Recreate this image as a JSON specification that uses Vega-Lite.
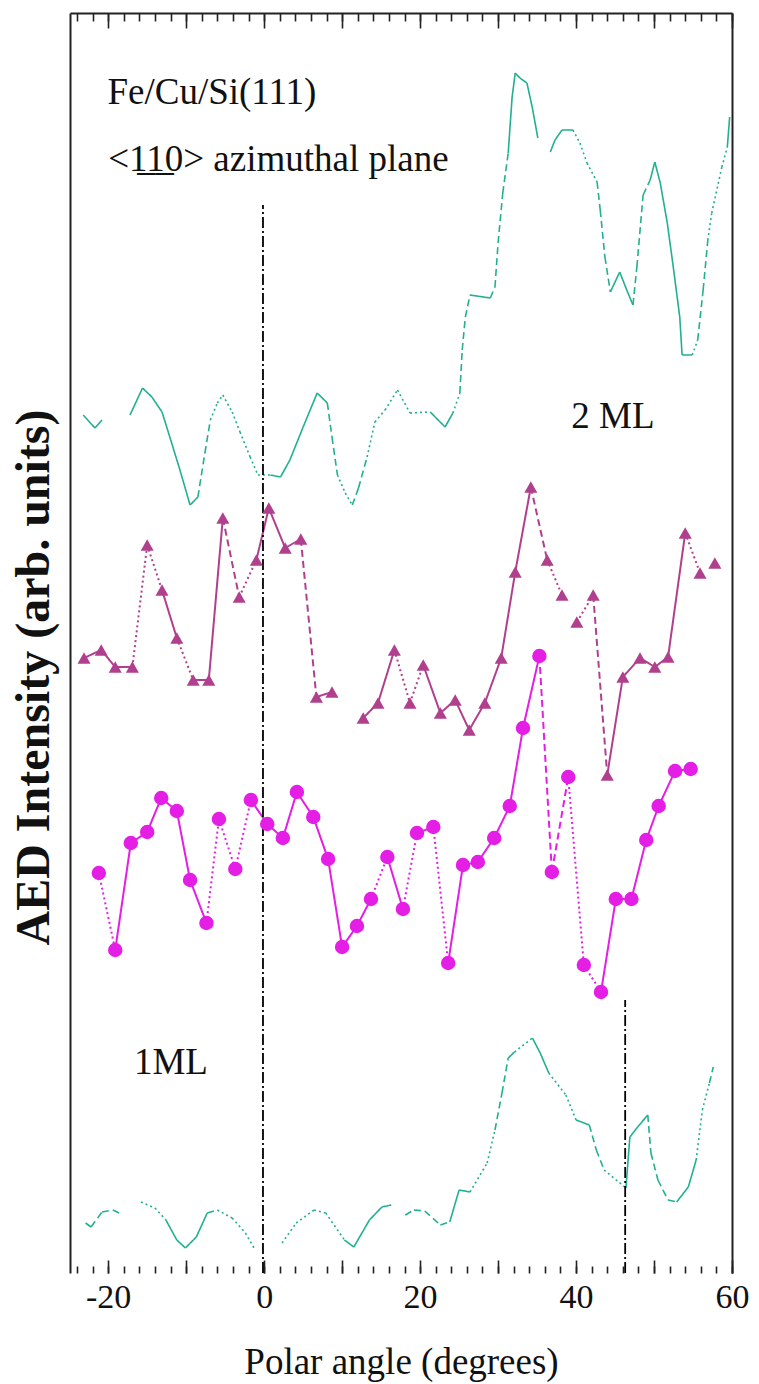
{
  "$schema": "https://vega.github.io/schema/vega-lite/v6.json",
  "width": 662,
  "height": 1260,
  "autosize": {"type": "none"},
  "padding": {"left": 70, "top": 13, "right": 27, "bottom": 111},
  "background": "white",
  "config": {"view": {"stroke": null}, "font": "Liberation Serif", "axis": {"grid": false}},
  "datasets": {
    "pts": [
      {"s":"2ML","x":-23.2,"y":85.8,"st":"s"},{"s":"2ML","x":-21.7,"y":84.5,"st":"s"},{"s":"2ML","x":-20.8,"y":85.3,"st":"n"},
      {"s":"2ML","x":-17.2,"y":85.8,"st":"s"},{"s":"2ML","x":-15.6,"y":88.5,"st":"s"},{"s":"2ML","x":-14.4,"y":87.6,"st":"s"},
      {"s":"2ML","x":-13.1,"y":86.1,"st":"s"},{"s":"2ML","x":-12.1,"y":83.6,"st":"s"},{"s":"2ML","x":-10.8,"y":80.3,"st":"s"},
      {"s":"2ML","x":-9.5,"y":76.8,"st":"s"},{"s":"2ML","x":-8.5,"y":77.6,"st":"d"},{"s":"2ML","x":-7.6,"y":82.0,"st":"d"},
      {"s":"2ML","x":-6.9,"y":85.3,"st":"o"},{"s":"2ML","x":-6.0,"y":87.0,"st":"o"},{"s":"2ML","x":-5.3,"y":87.8,"st":"o"},
      {"s":"2ML","x":-4.1,"y":86.1,"st":"o"},{"s":"2ML","x":-3.1,"y":84.1,"st":"o"},{"s":"2ML","x":-1.8,"y":81.6,"st":"o"},
      {"s":"2ML","x":-0.8,"y":79.8,"st":"o"},{"s":"2ML","x":0.8,"y":79.8,"st":"s"},{"s":"2ML","x":2.1,"y":79.6,"st":"s"},
      {"s":"2ML","x":3.3,"y":81.3,"st":"s"},{"s":"2ML","x":5.0,"y":84.6,"st":"s"},{"s":"2ML","x":6.8,"y":88.0,"st":"s"},
      {"s":"2ML","x":8.1,"y":87.0,"st":"d"},{"s":"2ML","x":8.7,"y":83.6,"st":"d"},{"s":"2ML","x":9.4,"y":79.8,"st":"o"},
      {"s":"2ML","x":10.4,"y":78.0,"st":"o"},{"s":"2ML","x":11.3,"y":76.8,"st":"d"},{"s":"2ML","x":12.1,"y":78.5,"st":"d"},
      {"s":"2ML","x":13.2,"y":81.6,"st":"o"},{"s":"2ML","x":14.2,"y":85.1,"st":"o"},{"s":"2ML","x":15.5,"y":86.3,"st":"o"},
      {"s":"2ML","x":17.1,"y":88.3,"st":"o"},{"s":"2ML","x":18.7,"y":86.0,"st":"o"},{"s":"2ML","x":21.3,"y":86.1,"st":"s"},
      {"s":"2ML","x":23.2,"y":84.6,"st":"s"},{"s":"2ML","x":24.2,"y":86.0,"st":"o"},{"s":"2ML","x":25.1,"y":88.0,"st":"d"},
      {"s":"2ML","x":25.4,"y":92.3,"st":"d"},{"s":"2ML","x":25.8,"y":95.6,"st":"d"},{"s":"2ML","x":26.4,"y":97.8,"st":"s"},
      {"s":"2ML","x":29.0,"y":97.5,"st":"d"},{"s":"2ML","x":29.6,"y":98.6,"st":"d"},{"s":"2ML","x":30.0,"y":103.0,"st":"d"},
      {"s":"2ML","x":30.6,"y":108.0,"st":"d"},{"s":"2ML","x":31.3,"y":112.0,"st":"s"},{"s":"2ML","x":31.8,"y":117.6,"st":"s"},
      {"s":"2ML","x":32.2,"y":120.0,"st":"s"},{"s":"2ML","x":32.8,"y":119.5,"st":"s"},{"s":"2ML","x":33.7,"y":119.0,"st":"s"},
      {"s":"2ML","x":34.4,"y":116.5,"st":"s"},{"s":"2ML","x":35.1,"y":113.5,"st":"n"},{"s":"2ML","x":36.7,"y":112.1,"st":"s"},
      {"s":"2ML","x":37.3,"y":113.3,"st":"s"},{"s":"2ML","x":38.2,"y":114.3,"st":"s"},{"s":"2ML","x":39.6,"y":114.3,"st":"o"},
      {"s":"2ML","x":40.5,"y":113.0,"st":"o"},{"s":"2ML","x":41.4,"y":111.0,"st":"o"},{"s":"2ML","x":42.7,"y":109.1,"st":"d"},
      {"s":"2ML","x":43.1,"y":106.3,"st":"d"},{"s":"2ML","x":43.7,"y":101.6,"st":"d"},{"s":"2ML","x":44.4,"y":98.1,"st":"s"},
      {"s":"2ML","x":45.6,"y":100.1,"st":"s"},{"s":"2ML","x":46.5,"y":98.3,"st":"s"},{"s":"2ML","x":47.3,"y":96.8,"st":"d"},
      {"s":"2ML","x":47.8,"y":100.6,"st":"d"},{"s":"2ML","x":48.6,"y":107.8,"st":"d"},{"s":"2ML","x":49.5,"y":109.3,"st":"s"},
      {"s":"2ML","x":50.1,"y":111.1,"st":"s"},{"s":"2ML","x":50.8,"y":109.0,"st":"s"},{"s":"2ML","x":51.7,"y":105.0,"st":"s"},
      {"s":"2ML","x":52.4,"y":101.0,"st":"s"},{"s":"2ML","x":53.3,"y":95.6,"st":"s"},{"s":"2ML","x":53.6,"y":91.8,"st":"s"},
      {"s":"2ML","x":54.9,"y":91.8,"st":"o"},{"s":"2ML","x":55.6,"y":93.3,"st":"d"},{"s":"2ML","x":56.3,"y":98.3,"st":"d"},
      {"s":"2ML","x":56.9,"y":103.3,"st":"o"},{"s":"2ML","x":57.4,"y":106.0,"st":"o"},{"s":"2ML","x":58.7,"y":110.6,"st":"o"},
      {"s":"2ML","x":59.4,"y":112.6,"st":"s"},{"s":"2ML","x":59.7,"y":115.6,"st":"s"},

      {"s":"tri","x":-23.1,"y":61.5,"st":"s"},{"s":"tri","x":-20.9,"y":62.3,"st":"s"},{"s":"tri","x":-19.1,"y":60.6,"st":"s"},
      {"s":"tri","x":-16.9,"y":60.6,"st":"o"},{"s":"tri","x":-15.0,"y":72.8,"st":"o"},{"s":"tri","x":-13.1,"y":68.3,"st":"s"},
      {"s":"tri","x":-11.2,"y":63.5,"st":"o"},{"s":"tri","x":-9.1,"y":59.3,"st":"s"},{"s":"tri","x":-7.1,"y":59.3,"st":"s"},
      {"s":"tri","x":-5.3,"y":75.5,"st":"d"},{"s":"tri","x":-3.2,"y":67.6,"st":"o"},{"s":"tri","x":-1.0,"y":71.3,"st":"s"},
      {"s":"tri","x":0.6,"y":76.5,"st":"s"},{"s":"tri","x":2.7,"y":72.5,"st":"s"},{"s":"tri","x":4.7,"y":73.4,"st":"d"},
      {"s":"tri","x":6.7,"y":57.6,"st":"s"},{"s":"tri","x":8.7,"y":58.1,"st":"n"},{"s":"tri","x":12.7,"y":55.5,"st":"s"},
      {"s":"tri","x":14.6,"y":57.0,"st":"s"},{"s":"tri","x":16.7,"y":62.3,"st":"o"},{"s":"tri","x":18.7,"y":57.0,"st":"o"},
      {"s":"tri","x":20.4,"y":60.8,"st":"s"},{"s":"tri","x":22.6,"y":56.0,"st":"s"},{"s":"tri","x":24.5,"y":57.3,"st":"s"},
      {"s":"tri","x":26.3,"y":54.3,"st":"s"},{"s":"tri","x":28.3,"y":57.0,"st":"s"},{"s":"tri","x":30.4,"y":61.5,"st":"s"},
      {"s":"tri","x":32.2,"y":70.1,"st":"s"},{"s":"tri","x":34.2,"y":78.6,"st":"d"},{"s":"tri","x":36.3,"y":71.3,"st":"o"},
      {"s":"tri","x":38.2,"y":67.8,"st":"n"},{"s":"tri","x":40.1,"y":65.1,"st":"o"},{"s":"tri","x":42.2,"y":67.8,"st":"d"},
      {"s":"tri","x":44.0,"y":49.8,"st":"s"},{"s":"tri","x":46.0,"y":59.6,"st":"s"},{"s":"tri","x":48.2,"y":61.5,"st":"s"},
      {"s":"tri","x":50.1,"y":60.6,"st":"s"},{"s":"tri","x":51.8,"y":61.6,"st":"s"},{"s":"tri","x":54.0,"y":74.0,"st":"o"},
      {"s":"tri","x":55.9,"y":70.0,"st":"n"},{"s":"tri","x":57.8,"y":71.0,"st":"n"},

      {"s":"circ","x":-21.2,"y":40.0,"st":"o"},{"s":"circ","x":-19.1,"y":32.3,"st":"s"},{"s":"circ","x":-17.1,"y":43.0,"st":"s"},
      {"s":"circ","x":-15.0,"y":44.1,"st":"s"},{"s":"circ","x":-13.2,"y":47.5,"st":"s"},{"s":"circ","x":-11.2,"y":46.2,"st":"s"},
      {"s":"circ","x":-9.5,"y":39.3,"st":"s"},{"s":"circ","x":-7.4,"y":35.0,"st":"o"},{"s":"circ","x":-5.8,"y":45.4,"st":"o"},
      {"s":"circ","x":-3.7,"y":40.4,"st":"o"},{"s":"circ","x":-1.7,"y":47.3,"st":"s"},{"s":"circ","x":0.4,"y":44.9,"st":"s"},
      {"s":"circ","x":2.4,"y":43.5,"st":"s"},{"s":"circ","x":4.2,"y":48.1,"st":"s"},{"s":"circ","x":6.3,"y":45.6,"st":"s"},
      {"s":"circ","x":8.2,"y":41.4,"st":"s"},{"s":"circ","x":10.0,"y":32.6,"st":"s"},{"s":"circ","x":11.9,"y":34.7,"st":"s"},
      {"s":"circ","x":13.7,"y":37.4,"st":"o"},{"s":"circ","x":15.8,"y":41.6,"st":"s"},{"s":"circ","x":17.8,"y":36.4,"st":"o"},
      {"s":"circ","x":19.6,"y":44.0,"st":"s"},{"s":"circ","x":21.7,"y":44.6,"st":"o"},{"s":"circ","x":23.6,"y":31.0,"st":"s"},
      {"s":"circ","x":25.5,"y":40.8,"st":"s"},{"s":"circ","x":27.4,"y":41.1,"st":"s"},{"s":"circ","x":29.5,"y":43.5,"st":"s"},
      {"s":"circ","x":31.5,"y":46.7,"st":"s"},{"s":"circ","x":33.2,"y":54.5,"st":"s"},{"s":"circ","x":35.3,"y":61.7,"st":"d"},
      {"s":"circ","x":36.9,"y":40.1,"st":"d"},{"s":"circ","x":39.0,"y":49.6,"st":"o"},{"s":"circ","x":41.0,"y":30.8,"st":"o"},
      {"s":"circ","x":43.2,"y":28.1,"st":"s"},{"s":"circ","x":45.1,"y":37.4,"st":"s"},{"s":"circ","x":47.1,"y":37.4,"st":"s"},
      {"s":"circ","x":49.0,"y":43.3,"st":"s"},{"s":"circ","x":50.6,"y":46.7,"st":"s"},{"s":"circ","x":52.7,"y":50.2,"st":"s"},
      {"s":"circ","x":54.7,"y":50.4,"st":"n"},

      {"s":"1ML","x":-22.9,"y":5.0,"st":"d"},{"s":"1ML","x":-22.2,"y":4.6,"st":"d"},{"s":"1ML","x":-20.8,"y":6.1,"st":"d"},
      {"s":"1ML","x":-19.4,"y":6.3,"st":"d"},{"s":"1ML","x":-18.6,"y":6.0,"st":"n"},{"s":"1ML","x":-15.8,"y":7.1,"st":"o"},
      {"s":"1ML","x":-14.0,"y":6.5,"st":"o"},{"s":"1ML","x":-12.6,"y":5.3,"st":"s"},{"s":"1ML","x":-11.2,"y":3.3,"st":"s"},
      {"s":"1ML","x":-10.1,"y":2.5,"st":"s"},{"s":"1ML","x":-8.7,"y":3.6,"st":"s"},{"s":"1ML","x":-7.3,"y":6.0,"st":"d"},
      {"s":"1ML","x":-6.0,"y":6.3,"st":"o"},{"s":"1ML","x":-4.1,"y":5.5,"st":"o"},{"s":"1ML","x":-2.4,"y":4.0,"st":"o"},
      {"s":"1ML","x":-1.3,"y":2.5,"st":"n"},{"s":"1ML","x":2.3,"y":3.0,"st":"o"},{"s":"1ML","x":4.1,"y":5.0,"st":"o"},
      {"s":"1ML","x":6.4,"y":6.3,"st":"o"},{"s":"1ML","x":7.9,"y":6.0,"st":"o"},{"s":"1ML","x":10.3,"y":3.3,"st":"s"},
      {"s":"1ML","x":11.5,"y":2.6,"st":"s"},{"s":"1ML","x":13.5,"y":5.3,"st":"s"},{"s":"1ML","x":15.1,"y":6.6,"st":"s"},
      {"s":"1ML","x":16.3,"y":6.8,"st":"n"},{"s":"1ML","x":18.1,"y":5.8,"st":"d"},{"s":"1ML","x":19.2,"y":6.3,"st":"d"},
      {"s":"1ML","x":20.6,"y":6.2,"st":"d"},{"s":"1ML","x":22.6,"y":4.8,"st":"d"},{"s":"1ML","x":23.8,"y":5.1,"st":"s"},
      {"s":"1ML","x":25.0,"y":8.3,"st":"s"},{"s":"1ML","x":26.4,"y":8.1,"st":"o"},{"s":"1ML","x":28.6,"y":11.0,"st":"o"},
      {"s":"1ML","x":29.6,"y":14.3,"st":"d"},{"s":"1ML","x":30.5,"y":18.0,"st":"d"},{"s":"1ML","x":31.3,"y":21.5,"st":"s"},
      {"s":"1ML","x":32.1,"y":22.1,"st":"o"},{"s":"1ML","x":34.4,"y":23.5,"st":"s"},{"s":"1ML","x":35.4,"y":22.0,"st":"s"},
      {"s":"1ML","x":36.5,"y":20.0,"st":"o"},{"s":"1ML","x":38.7,"y":17.8,"st":"o"},{"s":"1ML","x":40.0,"y":15.3,"st":"s"},
      {"s":"1ML","x":41.7,"y":14.8,"st":"d"},{"s":"1ML","x":42.6,"y":12.3,"st":"d"},{"s":"1ML","x":43.6,"y":10.3,"st":"o"},
      {"s":"1ML","x":46.4,"y":8.5,"st":"s"},{"s":"1ML","x":46.9,"y":13.6,"st":"s"},{"s":"1ML","x":47.9,"y":14.6,"st":"s"},
      {"s":"1ML","x":49.2,"y":15.8,"st":"d"},{"s":"1ML","x":49.6,"y":12.0,"st":"d"},{"s":"1ML","x":50.5,"y":9.3,"st":"d"},
      {"s":"1ML","x":51.8,"y":7.3,"st":"d"},{"s":"1ML","x":52.9,"y":7.1,"st":"s"},{"s":"1ML","x":54.4,"y":8.6,"st":"s"},
      {"s":"1ML","x":55.4,"y":11.3,"st":"o"},{"s":"1ML","x":56.2,"y":16.3,"st":"o"},{"s":"1ML","x":57.1,"y":19.0,"st":"d"},
      {"s":"1ML","x":57.6,"y":20.6,"st":"n"}
    ],
    "vl": [
      {"x": -0.15, "y": 0, "y2": 106.8},
      {"x": 46.3, "y": 0, "y2": 27.3}
    ],
    "notes": [
      {"t": "Fe/Cu/Si(111)", "x": -20.1, "y": 118.0},
      {"t": "<1̲1̲0> azimuthal plane", "x": -20.0, "y": 111.3},
      {"t": "2 ML", "x": 39.4, "y": 85.6},
      {"t": "1ML", "x": -16.7, "y": 21.0}
    ]
  },
  "layer": [
    {
      "data": {"name": "pts"},
      "transform": [
        {"window": [{"op": "lead", "field": "x", "as": "nx"}, {"op": "lead", "field": "y", "as": "ny"}], "groupby": ["s"], "sort": [{"field": "x", "order": "ascending"}]},
        {"filter": "datum.st !== 'n' && isValid(datum.nx)"}
      ],
      "mark": {"type": "rule", "strokeCap": "butt"},
      "encoding": {
        "x": {"field": "x", "type": "quantitative", "scale": {"domain": [-24.9, 60], "nice": false, "zero": false},
          "axis": {"orient": "bottom", "offset": -7, "values": [-24,-22,-20,-18,-16,-14,-12,-10,-8,-6,-4,-2,0,2,4,6,8,10,12,14,16,18,20,22,24,26,28,30,32,34,36,38,40,42,44,46,48,50,52,54,56,58,60],
            "labels": false, "domain": false, "title": null, "tickColor": "#222", "tickWidth": 1.6, "tickSize": 7}},
        "y": {"field": "y", "type": "quantitative", "scale": {"domain": [0, 126], "nice": false, "zero": false},
          "axis": {"orient": "left", "ticks": false, "labels": false, "domain": true, "domainColor": "#222", "domainWidth": 2,
            "title": "AED Intensity (arb. units)", "titleFont": "Liberation Serif", "titleFontWeight": "bold", "titleFontSize": 48,
            "titleAngle": -90, "titleX": -22, "titleY": 664, "titleAlign": "center", "titleBaseline": "alphabetic", "titleColor": "#111"}},
        "x2": {"field": "nx"},
        "y2": {"field": "ny"},
        "color": {"field": "s", "type": "nominal", "scale": {"domain": ["2ML", "1ML", "tri", "circ"], "range": ["#22B090", "#22B090", "#B0408E", "#E41EE4"]}, "legend": null},
        "strokeDash": {"field": "st", "type": "nominal", "scale": {"domain": ["s", "d", "o"], "range": [[1, 0], [7, 4], [2, 3]]}, "legend": null},
        "strokeWidth": {"condition": {"test": "datum.s === 'tri' || datum.s === 'circ'", "value": 2}, "value": 1.6}
      }
    },
    {
      "data": {"name": "vl"},
      "mark": {"type": "rule", "strokeDash": [11, 3, 2, 3], "strokeWidth": 1.8, "color": "#000"},
      "encoding": {
        "x": {"field": "x", "type": "quantitative", "scale": {"domain": [-24.9, 60], "nice": false, "zero": false},
          "axis": {"orient": "bottom", "offset": -13, "values": [-20,-10,0,10,20,30,40,50,60],
            "labelExpr": "datum.value % 20 === 0 ? '' + datum.value : ''", "domain": false,
            "tickColor": "#222", "tickWidth": 1.6, "tickSize": 13,
            "labelFont": "Liberation Serif", "labelFontSize": 34, "labelColor": "#111", "labelPadding": 7, "labelFlush": false, "labelOverlap": false,
            "title": "Polar angle (degrees)", "titleFont": "Liberation Serif", "titleFontSize": 37, "titleFontWeight": "normal", "titleColor": "#111", "titlePadding": 30}},
        "y": {"field": "y", "type": "quantitative", "scale": {"domain": [0, 126], "nice": false, "zero": false},
          "axis": {"orient": "right", "ticks": false, "labels": false, "title": null, "domain": true, "domainColor": "#222", "domainWidth": 2}},
        "y2": {"field": "y2"}
      }
    },
    {
      "data": {"name": "pts"},
      "transform": [{"filter": "datum.s === 'tri'"}],
      "mark": {"type": "point", "shape": "triangle-up", "filled": true, "size": 170, "color": "#B0408E", "opacity": 1},
      "encoding": {
        "x": {"field": "x", "type": "quantitative", "scale": {"domain": [-24.9, 60], "nice": false, "zero": false},
          "axis": {"orient": "top", "offset": -8, "values": [-24,-22,-20,-18,-16,-14,-12,-10,-8,-6,-4,-2,0,2,4,6,8,10,12,14,16,18,20,22,24,26,28,30,32,34,36,38,40,42,44,46,48,50,52,54,56,58,60],
            "labels": false, "title": null, "domain": false, "tickColor": "#222", "tickWidth": 1.6, "tickSize": 8}},
        "y": {"field": "y", "type": "quantitative", "scale": {"domain": [0, 126], "nice": false, "zero": false}, "axis": null}
      }
    },
    {
      "data": {"name": "pts"},
      "transform": [{"filter": "datum.s === 'circ'"}],
      "mark": {"type": "point", "shape": "circle", "filled": true, "size": 210, "color": "#E41EE4", "opacity": 1},
      "encoding": {
        "x": {"field": "x", "type": "quantitative", "scale": {"domain": [-24.9, 60], "nice": false, "zero": false},
          "axis": {"orient": "top", "offset": -15, "values": [-20,-10,0,10,20,30,40,50,60], "labels": false, "title": null, "domain": false,
            "tickColor": "#222", "tickWidth": 1.6, "tickSize": 15}},
        "y": {"field": "y", "type": "quantitative", "scale": {"domain": [0, 126], "nice": false, "zero": false}, "axis": null}
      }
    },
    {
      "data": {"name": "notes"},
      "mark": {"type": "text", "align": "left", "baseline": "middle", "font": "Liberation Serif", "fontSize": 37, "color": "#111"},
      "encoding": {
        "x": {"field": "x", "type": "quantitative", "scale": {"domain": [-24.9, 60], "nice": false, "zero": false},
          "axis": {"orient": "top", "ticks": false, "labels": false, "title": null, "domain": true, "domainColor": "#222", "domainWidth": 2}},
        "y": {"field": "y", "type": "quantitative", "scale": {"domain": [0, 126], "nice": false, "zero": false}, "axis": null},
        "text": {"field": "t"}
      }
    }
  ],
  "resolve": {"axis": {"x": "independent", "y": "independent"}}
}
